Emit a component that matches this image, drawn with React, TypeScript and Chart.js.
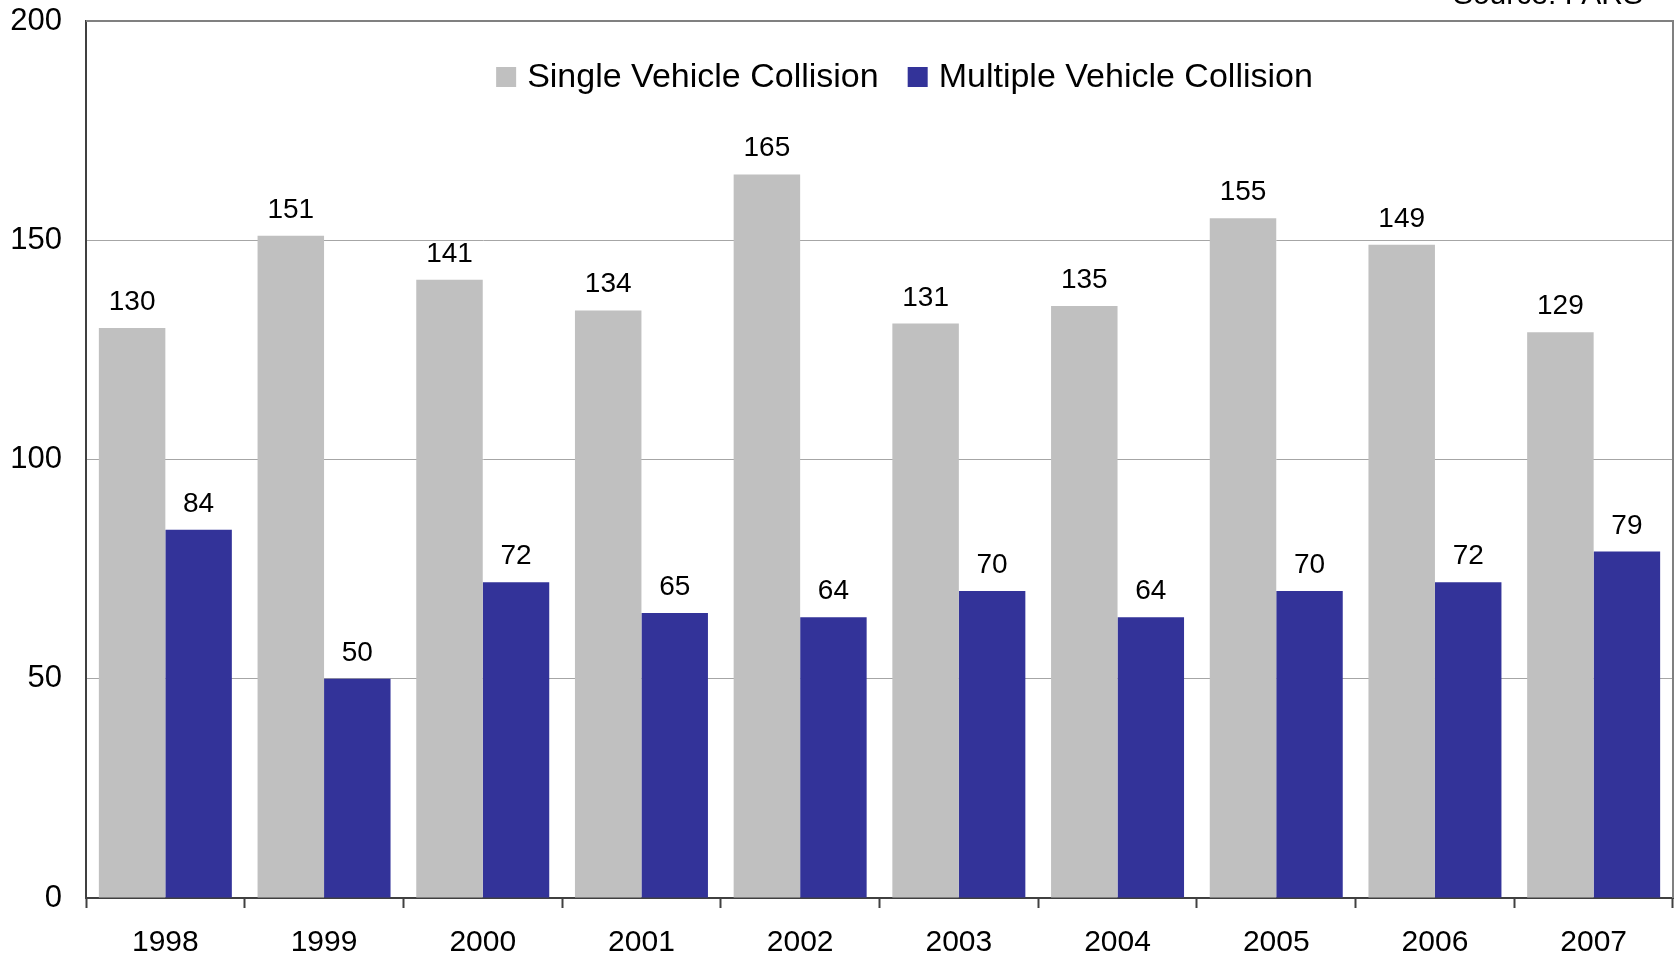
import React, { useEffect, useRef } from "react";
import { Chart, registerables } from "chart.js";

Chart.register(...registerables);

const categories = ["1998", "1999", "2000", "2001", "2002", "2003", "2004", "2005", "2006", "2007"];
const singleVehicle = [130, 151, 141, 134, 165, 131, 135, 155, 149, 129];
const multipleVehicle = [84, 50, 72, 65, 64, 70, 64, 70, 72, 79];
const seriesNames = ["Single Vehicle Collision", "Multiple Vehicle Collision"];
const yTicks = [0, 50, 100, 150, 200];
const sourceText = "Source: FARS";

const FONT = '"Liberation Sans", Arial, Helvetica, sans-serif';

const frameAndLabels = {
  id: "frameAndLabels",
  beforeDatasetsDraw(chart: any) {
    const { ctx, chartArea } = chart;
    ctx.save();
    ctx.strokeStyle = "#808080";
    ctx.lineWidth = 2;
    ctx.beginPath();
    ctx.moveTo(chartArea.left, chartArea.top);
    ctx.lineTo(chartArea.right, chartArea.top);
    ctx.lineTo(chartArea.right, chartArea.bottom);
    ctx.stroke();
    ctx.restore();
  },
  afterDatasetsDraw(chart: any) {
    const { ctx } = chart;
    ctx.save();
    ctx.font = `28px ${FONT}`;
    ctx.fillStyle = "#000";
    ctx.textAlign = "center";
    ctx.textBaseline = "alphabetic";
    chart.data.datasets.forEach((ds: any, i: number) => {
      const meta = chart.getDatasetMeta(i);
      meta.data.forEach((el: any, j: number) => {
        ctx.fillText(String(ds.data[j]), el.x, el.y - 18);
      });
    });
    ctx.restore();
  },
  afterDraw(chart: any) {
    const { ctx, chartArea } = chart;
    ctx.save();
    // legend
    ctx.font = `34px ${FONT}`;
    const box = 20;
    const gap = 11;
    const itemGap = 29;
    const items = chart.data.datasets.map((ds: any) => ({
      label: ds.label,
      color: ds.backgroundColor,
      w: ctx.measureText(ds.label).width,
    }));
    let total = 0;
    items.forEach((it: any, i: number) => {
      total += box + gap + it.w + (i < items.length - 1 ? itemGap : 0);
    });
    let x = (chartArea.left + chartArea.right) / 2 + 25 - total / 2;
    const baseline = 87;
    ctx.textAlign = "left";
    ctx.textBaseline = "alphabetic";
    items.forEach((it: any) => {
      ctx.fillStyle = it.color;
      ctx.fillRect(x, baseline - box, box, box);
      ctx.fillStyle = "#000";
      ctx.fillText(it.label, x + box + gap, baseline);
      x += box + gap + it.w + itemGap;
    });
    // source
    ctx.font = `30px ${FONT}`;
    ctx.textAlign = "right";
    ctx.fillText(sourceText, 1643, 4);
    ctx.restore();
  },
};

export default function App() {
  const ref = useRef<HTMLCanvasElement | null>(null);
  useEffect(() => {
    if (!ref.current) return;
    const chart = new Chart(ref.current, {
      type: "bar",
      data: {
        labels: categories,
        datasets: [
          {
            label: seriesNames[0],
            data: singleVehicle,
            backgroundColor: "#C0C0C0",
            categoryPercentage: 0.838,
            barPercentage: 1,
          },
          {
            label: seriesNames[1],
            data: multipleVehicle,
            backgroundColor: "#333399",
            categoryPercentage: 0.838,
            barPercentage: 1,
          },
        ],
      },
      options: {
        responsive: false,
        animation: false,
        layout: { padding: { top: 21, right: 2, left: 0, bottom: 0 } },
        plugins: {
          legend: { display: false },
          tooltip: { enabled: false },
        },
        scales: {
          x: {
            grid: {
              offset: true,
              drawOnChartArea: false,
              tickLength: 10,
              tickColor: "#404040",
              tickWidth: 2,
            },
            border: { color: "#404040", width: 2 },
            ticks: {
              font: { family: FONT, size: 30 },
              color: "#000",
              padding: 17,
              maxRotation: 0,
            },
            afterFit(scale: any) {
              scale.height = 59;
            },
          },
          y: {
            min: yTicks[0],
            max: yTicks[yTicks.length - 1],
            afterBuildTicks(scale: any) {
              scale.ticks = yTicks.map((v) => ({ value: v }));
            },
            grid: {
              color: "#A6A6A6",
              lineWidth: 1,
              drawTicks: false,
            },
            border: { color: "#404040", width: 2 },
            ticks: {
              font: { family: FONT, size: 31 },
              color: "#000",
              padding: 24,
            },
            afterFit(scale: any) {
              scale.width = 86;
              scale.paddingTop = 0;
              scale.paddingBottom = 0;
            },
          },
        },
      },
      plugins: [frameAndLabels],
    });
    return () => chart.destroy();
  }, []);
  return (
    <div style={{ position: "absolute", left: 0, top: 0, width: 1675, height: 957 }}>
      <canvas ref={ref} width={1675} height={957} />
    </div>
  );
}
